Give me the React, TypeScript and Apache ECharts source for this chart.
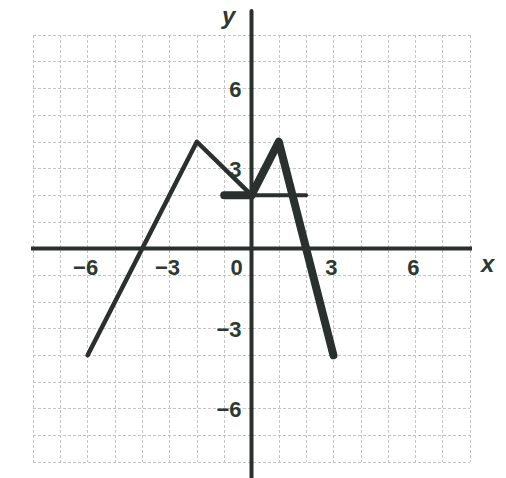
import React, { useEffect, useRef } from "react";
import * as echarts from "echarts";

// Piecewise-linear graphs on a -8..8 coordinate grid
const thinGraph: [number, number][] = [
  [-6, -4],
  [-2, 4],
  [0, 2],
];
const thickGraph: [number, number][] = [
  [0, 2],
  [1, 4],
  [3, -4],
];
const horizontalSegment: [number, number][] = [
  [-1, 2],
  [2, 2],
];
const horizontalBoldPart: [number, number][] = [
  [-1, 2],
  [0, 2],
];
// Axis lines reach a little beyond the grid
const xAxisLine: [number, number][] = [
  [-8.95, 0],
  [9.25, 0],
];
const yAxisLine: [number, number][] = [
  [0, -8.6],
  [0, 8.9],
];
const xTickLabels = [-6, -3, 3, 6];
const yTickLabels = [-6, -3, 3, 6];

const INK = "#2a302e";
const LABEL = "#2e3833";

const fmt = (v: number) => String(v).replace("-", "−");

export default function App() {
  const ref = useRef<HTMLDivElement>(null);

  useEffect(() => {
    if (!ref.current) return;
    const chart = echarts.init(ref.current, undefined, { renderer: "svg" });

    const labelFont = {
      fontFamily: "Liberation Sans, Arial, sans-serif",
      fontWeight: "bold" as const,
      fontSize: 22,
      color: LABEL,
      textBorderWidth: 0,
      opacity: 1,
    };

    const lineSeries = (data: [number, number][], width: number) => ({
      type: "line" as const,
      data,
      clip: false,
      symbol: "none",
      silent: true,
      lineStyle: { color: INK, width, cap: "round" as const, join: "round" as const },
      z: 3,
    });

    // Tick labels placed next to the zero lines
    const labelSeries = (
      data: [number, number][],
      text: (p: [number, number]) => string,
      offset: [number, number],
      align: "center" | "right"
    ) => ({
      type: "scatter" as const,
      data,
      symbolSize: 1,
      itemStyle: { color: "rgba(0,0,0,0)" },
      silent: true,
      clip: false,
      z: 4,
      label: {
        show: true,
        position: "inside" as const,
        offset,
        align,
        verticalAlign: "middle" as const,
        formatter: (p: { value: [number, number] }) => text(p.value),
        ...labelFont,
      },
    });

    const axisBase = {
      type: "value" as const,
      min: -8,
      max: 8,
      interval: 1,
      axisLine: { show: false },
      axisTick: { show: false },
      axisLabel: { show: false },
      splitLine: {
        show: true,
        lineStyle: { color: "#c4c4c4", width: 1, type: [3, 2] },
      },
    };

    chart.setOption({
      animation: false,
      backgroundColor: "#ffffff",
      grid: {
        left: 33,
        right: 36,
        top: 35,
        bottom: 16,
        containLabel: false,
        outerBoundsMode: "none",
      },
      xAxis: axisBase,
      yAxis: axisBase,
      graphic: [
        {
          type: "text",
          left: 481,
          top: 251,
          style: {
            text: "x",
            font: "italic bold 24px Liberation Sans, Arial, sans-serif",
            fill: LABEL,
          },
        },
        {
          type: "text",
          left: 222,
          top: 3,
          style: {
            text: "y",
            font: "italic bold 24px Liberation Sans, Arial, sans-serif",
            fill: LABEL,
          },
        },
      ],
      series: [
        { ...lineSeries(xAxisLine, 4), z: 2 },
        { ...lineSeries(yAxisLine, 4), z: 2 },
        lineSeries(thinGraph, 4.5),
        lineSeries(horizontalSegment, 4),
        lineSeries(horizontalBoldPart, 8),
        lineSeries(thickGraph, 8),
        labelSeries(
          xTickLabels.map((v) => [v, 0] as [number, number]),
          (p) => fmt(p[0]),
          [-2, 19],
          "center"
        ),
        labelSeries(
          yTickLabels.map((v) => [0, v] as [number, number]),
          (p) => fmt(p[1]),
          [-10, 1],
          "right"
        ),
        labelSeries([[0, 0]], () => "0", [-15, 19], "center"),
      ],
    });

    return () => chart.dispose();
  }, []);

  return (
    <div
      ref={ref}
      style={{ position: "fixed", left: 0, top: 0, width: 506, height: 478 }}
    />
  );
}
